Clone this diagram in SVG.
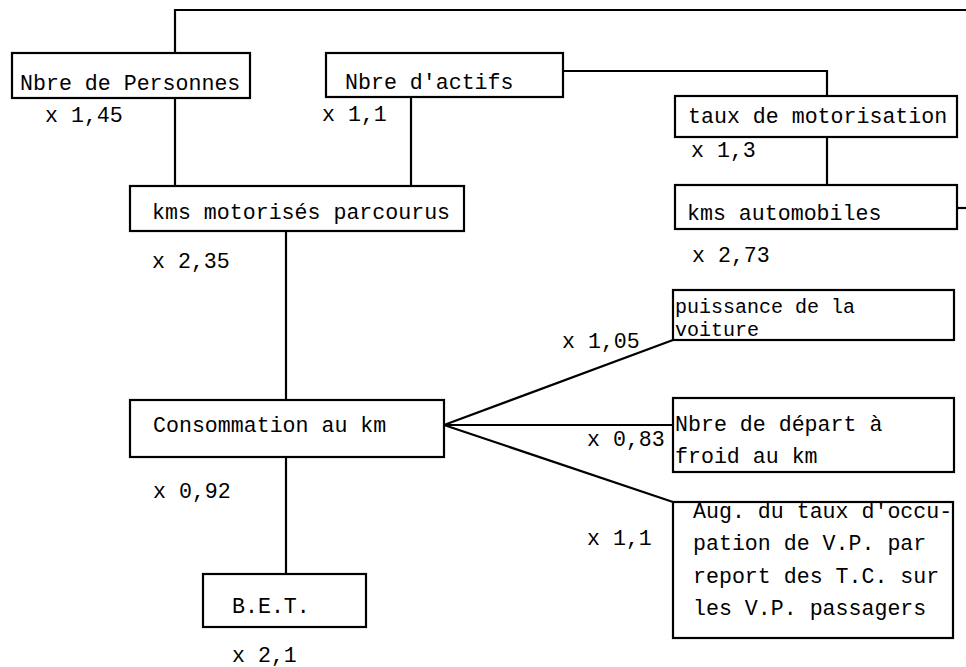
<svg xmlns="http://www.w3.org/2000/svg" width="966" height="667" viewBox="0 0 966 667">
<style>
  .box { fill: #ffffff; stroke: #000000; stroke-width: 2.2; }
  .conn { fill: none; stroke: #000000; stroke-width: 2.2; }
  text { font-family: "Liberation Mono", "DejaVu Sans Mono", monospace; font-size: 21.6px; fill: #000000; }
  .tight { font-size: 20px; }
</style>
<rect width="966" height="667" fill="#ffffff"/>
<g id="connectors">
  <polyline class="conn" points="175,53 175,10 966,10"/>
  <line class="conn" x1="175" y1="98" x2="175" y2="186"/>
  <line class="conn" x1="411" y1="97" x2="411" y2="186"/>
  <polyline class="conn" points="563,71 827,71 827,96"/>
  <line class="conn" x1="827" y1="137" x2="827" y2="185"/>
  <line class="conn" x1="957" y1="208" x2="966" y2="208"/>
  <line class="conn" x1="286" y1="231" x2="286" y2="400"/>
  <line class="conn" x1="286" y1="457" x2="286" y2="574"/>
  <line class="conn" x1="444" y1="425" x2="673" y2="340"/>
  <line class="conn" x1="444" y1="425" x2="673" y2="425"/>
  <line class="conn" x1="444" y1="425" x2="673" y2="502"/>
</g>
<g id="n-personnes">
  <rect class="box" x="12" y="53" width="238" height="45"/>
  <text x="20" y="90">Nbre de Personnes</text>
  <text x="45" y="122">x 1,45</text>
</g>
<g id="n-actifs">
  <rect class="box" x="326" y="53" width="237" height="44"/>
  <text x="345" y="89">Nbre d'actifs</text>
  <text x="322" y="121">x 1,1</text>
</g>
<g id="n-taux">
  <rect class="box" x="675" y="96" width="282" height="41"/>
  <text x="688" y="123">taux de motorisation</text>
  <text x="691" y="157">x 1,3</text>
</g>
<g id="n-kms-auto">
  <rect class="box" x="675" y="185" width="282" height="44"/>
  <text x="687" y="220">kms automobiles</text>
  <text x="692" y="262">x 2,73</text>
</g>
<g id="n-kms-mot">
  <rect class="box" x="130" y="186" width="334" height="45"/>
  <text x="152" y="219">kms motorisés parcourus</text>
  <text x="152" y="268">x 2,35</text>
</g>
<g id="n-puissance">
  <rect class="box" x="673" y="290" width="281" height="50"/>
  <text class="tight" x="675" y="313">puissance de la</text>
  <text class="tight" x="675" y="336">voiture</text>
  <text x="562" y="348">x 1,05</text>
</g>
<g id="n-consommation">
  <rect class="box" x="130" y="400" width="314" height="57"/>
  <text x="153" y="432">Consommation au km</text>
  <text x="153" y="498">x 0,92</text>
</g>
<g id="n-depart">
  <rect class="box" x="673" y="398" width="281" height="74"/>
  <text x="675" y="431">Nbre de départ à</text>
  <text x="675" y="463">froid au km</text>
  <text x="587" y="446">x 0,83</text>
</g>
<g id="n-aug">
  <rect class="box" x="673" y="502" width="280" height="136"/>
  <text x="693" y="518">Aug. du taux d'occu-</text>
  <text x="693" y="550">pation de V.P. par</text>
  <text x="693" y="583">report des T.C. sur</text>
  <text x="693" y="615">les V.P. passagers</text>
  <text x="587" y="545">x 1,1</text>
</g>
<g id="n-bet">
  <rect class="box" x="203" y="574" width="163" height="53"/>
  <text x="232" y="613">B.E.T.</text>
  <text x="232" y="662">x 2,1</text>
</g>
</svg>
